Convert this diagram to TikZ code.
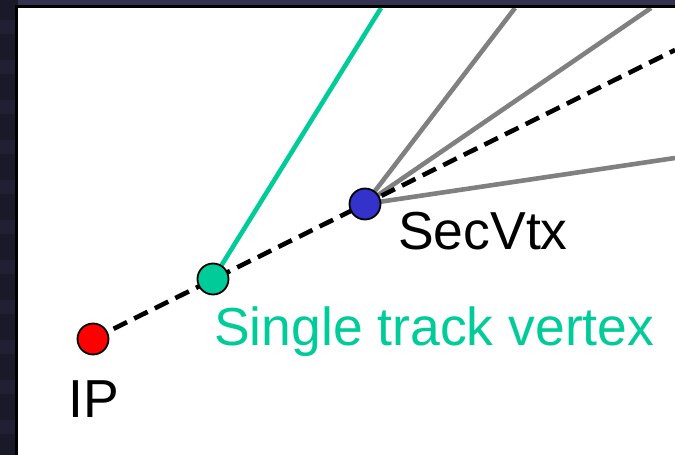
\documentclass[tikz,border=0pt]{standalone}
\usepackage{fontspec}
\setmainfont{Liberation Sans}
\definecolor{navy}{RGB}{26,25,42}
\definecolor{navytop}{RGB}{52,50,80}
\definecolor{trkgreen}{RGB}{0,204,153}
\definecolor{vtxblue}{RGB}{51,51,204}
\definecolor{trkgray}{RGB}{128,128,128}
\tikzset{
  vtx/.style={circle, draw=black, line width=1.8pt, minimum size=31pt, inner sep=0pt},
  lbl/.style={font=\fontsize{53.5}{53.5}\selectfont, inner sep=0pt, anchor=base west},
  trk/.style={line width=4.6pt},
  flight/.style={line width=4.6pt, dash pattern=on 15pt off 8pt, black}
}
\begin{document}
\begin{tikzpicture}[x=1pt,y=-1pt]
\useasboundingbox (0,0) rectangle (675,455);
% background
\fill[navy] (0,0) rectangle (675,455);
\fill[navytop] (18,0) rectangle (675,5);
\foreach \yy in {20,60,100,140,180,220,260,300,340,380,420} {
  \fill[navytop!25!navy] (0,\yy) rectangle (15,\yy+14);
}
\fill[black] (15,5) rectangle (675,455);
\fill[white] (18,8) rectangle (675,455);
% vertices positions
\coordinate (ipc) at (93,339);
\coordinate (stc) at (213,279);
\coordinate (svc) at (365,204);
\coordinate (dashend) at (675,50);
\coordinate (greenend) at (381,8);
\coordinate (g1end) at (515,8);
\coordinate (g2end) at (651,8);
\coordinate (g3end) at (675,158);
\begin{scope}
\clip (18,8) rectangle (675,455);
\draw[trk, trkgreen] (stc) -- (greenend);
\draw[trk, trkgray] (svc) -- (g1end);
\draw[trk, trkgray] (svc) -- (g2end);
\draw[trk, trkgray] (svc) -- (g3end);
\draw[flight] (ipc) -- (dashend);
\end{scope}
\node[vtx, fill=red] (ip) at (ipc) {};
\node[vtx, fill=trkgreen] (st) at (stc) {};
\node[vtx, fill=vtxblue] (sv) at (svc) {};
% labels
\node[lbl] (iplbl) at (68,417) {IP};
\node[lbl, text=trkgreen] (stlbl) at (214,345) {Single track vertex};
\node[lbl] (svlbl) at (398,249) {SecVtx};
\end{tikzpicture}
\end{document}
